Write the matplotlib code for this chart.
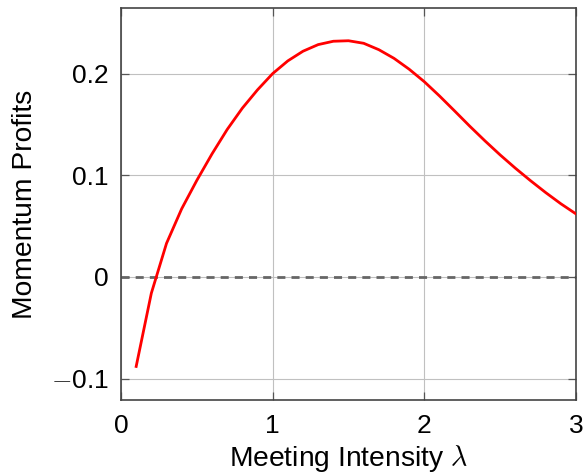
import matplotlib
matplotlib.use("Agg")
import matplotlib.pyplot as plt

plt.rcParams['font.family'] = ['Liberation Sans', 'DejaVu Sans']
plt.rcParams['mathtext.fontset'] = 'cm'

lam = [0.1, 0.2, 0.3, 0.4, 0.5, 0.6, 0.7, 0.8, 0.9, 1.0,
       1.1, 1.2, 1.3, 1.4, 1.5, 1.6, 1.7, 1.8, 1.9, 2.0,
       2.1, 2.2, 2.3, 2.4, 2.5, 2.6, 2.7, 2.8, 2.9, 3.0]
profits = [-0.088, -0.016, 0.033, 0.067, 0.095, 0.121, 0.145, 0.166, 0.184, 0.200,
           0.2125, 0.222, 0.2285, 0.2318, 0.2323, 0.2298, 0.2235, 0.2150, 0.2043, 0.192,
           0.178, 0.1632, 0.1482, 0.1338, 0.120, 0.107, 0.0947, 0.083, 0.072, 0.062]
xticks = [0, 1, 2, 3]
yticks = [-0.1, 0, 0.1, 0.2]
ytick_labels = ['$-$0.1', '0', '0.1', '0.2']

fig = plt.figure(figsize=(5.84, 4.74), dpi=100)
ax = fig.add_axes([121/584, 1-400/474, (576-121)/584, (400-8)/474])

ax.grid(True, color='#c0c0c0', linewidth=0.8)
ax.set_axisbelow(True)
ax.axhline(0, color='#666666', linewidth=2.0, linestyle=(0, (2.9, 2.2)), zorder=2)
ax.plot(lam, profits, color='#ff0000', linewidth=2.0, zorder=3)

ax.set_xlim(0, 3)
ax.set_ylim(-0.121, 0.2645)
ax.set_xticks(xticks)
ax.set_xticklabels([str(t) for t in xticks])
ax.set_yticks(yticks)
ax.set_yticklabels(ytick_labels)
ax.tick_params(direction='in', length=6, width=0.9, color='#555555',
               top=True, right=True, labelsize=19)
ax.tick_params(axis='y', pad=9)
ax.tick_params(axis='x', pad=10)
for s in ax.spines.values():
    s.set_color('#444444')
    s.set_linewidth(1.2)

ax.set_xlabel(r'Meeting Intensity $\lambda$', fontsize=20.3, labelpad=4)
ax.set_ylabel('Momentum Profits', fontsize=20.3, labelpad=9)

fig.savefig('out.png', dpi=100)
